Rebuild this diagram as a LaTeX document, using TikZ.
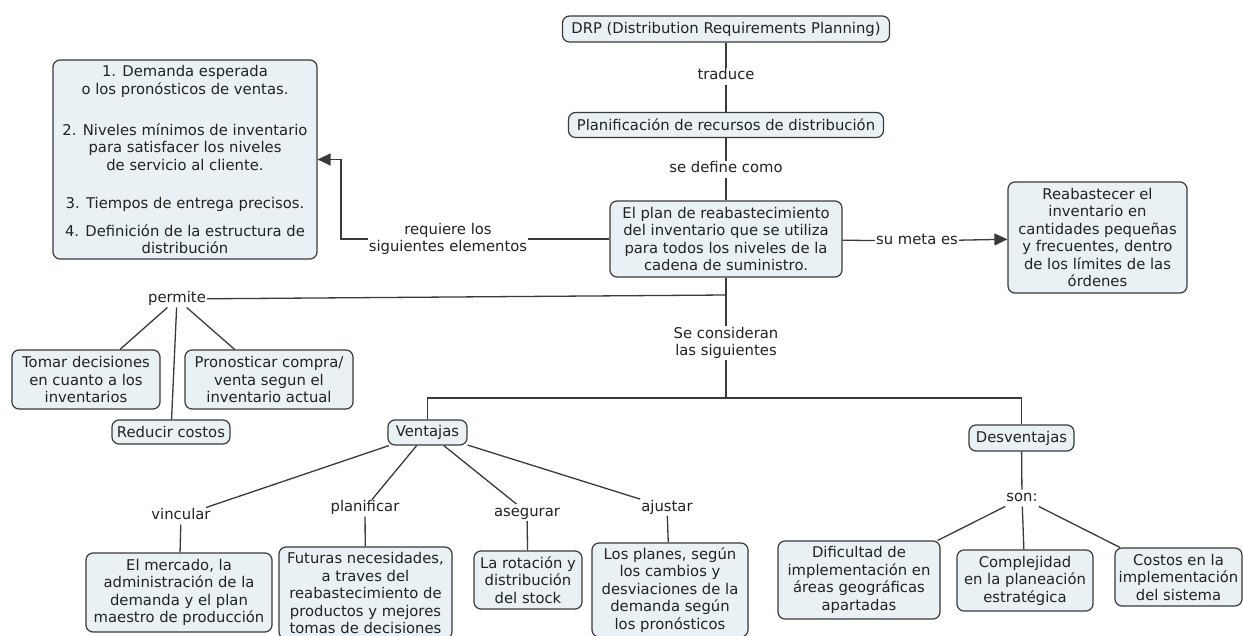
\documentclass[tikz,border=0pt]{standalone}
\usepackage{fontspec}
\setmainfont{DejaVu Sans}
\usetikzlibrary{arrows.meta}
\definecolor{boxfill}{HTML}{EAF1F4}
\definecolor{ink}{HTML}{222222}
\definecolor{wire}{HTML}{3A3A3A}

\begin{document}
\begin{tikzpicture}[x=1pt,y=-1pt,
  every node/.style={font=\fontsize{14.8}{17.5}\selectfont, text=ink},
  concept/.style={draw=wire, fill=boxfill, line width=1.2pt, rounded corners=7pt,
                  align=center, inner xsep=2pt, inner ysep=2pt},
  link/.style={inner sep=1pt, align=center, text height=11.2pt, text depth=3.4pt},
  linkm/.style={inner sep=1pt, align=center},
  wireline/.style={draw=wire, line width=1.3pt},
  tip/.style={-{Triangle[length=13pt,width=12pt]}}
]
\useasboundingbox (0,0) rectangle (1243,635);
\clip (0,0) rectangle (1243,635);
\fill[white] (0,0) rectangle (1243,635);

% ---------- concepts ----------
\node[concept, minimum width=327, minimum height=26] (drp) at (726,29)
  {DRP (Distribution Requirements Planning)};
\node[concept, minimum width=315, minimum height=25] (plan) at (726,125)
  {Planificación de recursos de distribución};
\node[concept, minimum width=232, minimum height=76] (core) at (726,239)
  {El plan de reabastecimiento\\del inventario que se utiliza\\para todos los niveles de la\\cadena de suministro.};
\node[concept, minimum width=264, minimum height=199] (needs) at (185,159.5)
  {1. Demanda esperada\\o los pronósticos de ventas.\\[23.5pt]
   2. Niveles mínimos de inventario\\para satisfacer los niveles\\de servicio al cliente.\\[21pt]
   3. Tiempos de entrega precisos.\\[10pt]
   4. Definición de la estructura de\\distribución};
\node[concept, minimum width=179, minimum height=111] (goal) at (1097.5,237.5)
  {Reabastecer el\\inventario en\\cantidades pequeñas\\y frecuentes, dentro\\de los límites de las\\órdenes};

\node[concept, minimum width=148, minimum height=59] (tomar) at (86,379.5)
  {Tomar decisiones\\en cuanto a los\\inventarios};
\node[concept, minimum width=168, minimum height=59] (pron) at (269,379.5)
  {Pronosticar compra/\\venta segun el\\inventario actual};
\node[concept, minimum width=118, minimum height=24] (reducir) at (171,432)
  {Reducir costos};

\node[concept, minimum width=79, minimum height=25] (vent) at (427.5,432.5) {Ventajas};
\node[concept, minimum width=105, minimum height=26] (desv) at (1021.5,438) {Desventajas};

\node[concept, minimum width=186, minimum height=79] (mercado) at (179,592.5)
  {El mercado, la\\administración de la\\demanda y el plan\\maestro de producción};
\node[concept, minimum width=173, minimum height=92] (futuras) at (365.5,593)
  {Futuras necesidades,\\a traves del\\reabastecimiento de\\productos y mejores\\tomas de decisiones};
\node[concept, minimum width=108, minimum height=58] (rotacion) at (528,580)
  {La rotación y\\distribución\\del stock};
\node[concept, minimum width=156, minimum height=94] (planes) at (670,590)
  {Los planes, según\\los cambios y\\desviaciones de la\\demanda según\\los pronósticos};
\node[concept, minimum width=162, minimum height=78] (dific) at (859,580)
  {Dificultad de\\implementación en\\áreas geográficas\\apartadas};
\node[concept, minimum width=136, minimum height=61] (compl) at (1025,580.5)
  {Complejidad\\en la planeación\\estratégica};
\node[concept, minimum width=127, minimum height=58] (costos) at (1178.5,577)
  {Costos en la\\implementación\\del sistema};

% ---------- linking phrases ----------
\node[link] (traduce) at (726,76) {traduce};
\node[link] (sedef) at (726,169) {se define como};
\node[linkm] (req) at (448,239) {requiere los\\siguientes elementos};
\node[link] (meta) at (917,241) {su meta es};
\node[link] (permite) at (177,299) {permite};
\node[linkm] (secons) at (726,343) {Se consideran\\las siguientes};
\node[link] (vincular) at (181,516) {vincular};
\node[link] (planif) at (365,508) {planificar};
\node[link] (aseg) at (527,512.5) {asegurar};
\node[link] (ajustar) at (667,507.5) {ajustar};
\node[link] (son) at (1022,498) {son:};

\coordinate (reqbend) at (341,239);
\coordinate (pjoin) at (726,295);
\coordinate (hub) at (726,398);

% ---------- connectors ----------
\draw[wireline] (drp) -- (traduce) -- (plan);
\draw[wireline] (plan) -- (sedef) -- (core);
\draw[wireline] (core) -- (req);
\draw[wireline, tip] (req) -- (reqbend) |- (needs.east);
\draw[wireline] (core) -- (meta);
\draw[wireline, tip] (meta) -- (goal);
\draw[wireline] (core) -- (secons);
\draw[wireline] (secons) -- (hub);
\draw[wireline] (vent.north) |- (hub) -| (desv.north);
\draw[wireline] (permite) -- (pjoin);
\draw[wireline] (permite) -- (tomar);
\draw[wireline] (permite) -- (reducir);
\draw[wireline] (permite) -- (pron);
\draw[wireline] (vent) -- (vincular) -- (mercado);
\draw[wireline] (vent) -- (planif) -- (futuras);
\draw[wireline] (vent) -- (aseg) -- (rotacion);
\draw[wireline] (vent) -- (ajustar) -- (planes);
\draw[wireline] (desv) -- (son) -- (compl);
\draw[wireline] (son) -- (dific);
\draw[wireline] (son) -- (costos);
\end{tikzpicture}
\end{document}
